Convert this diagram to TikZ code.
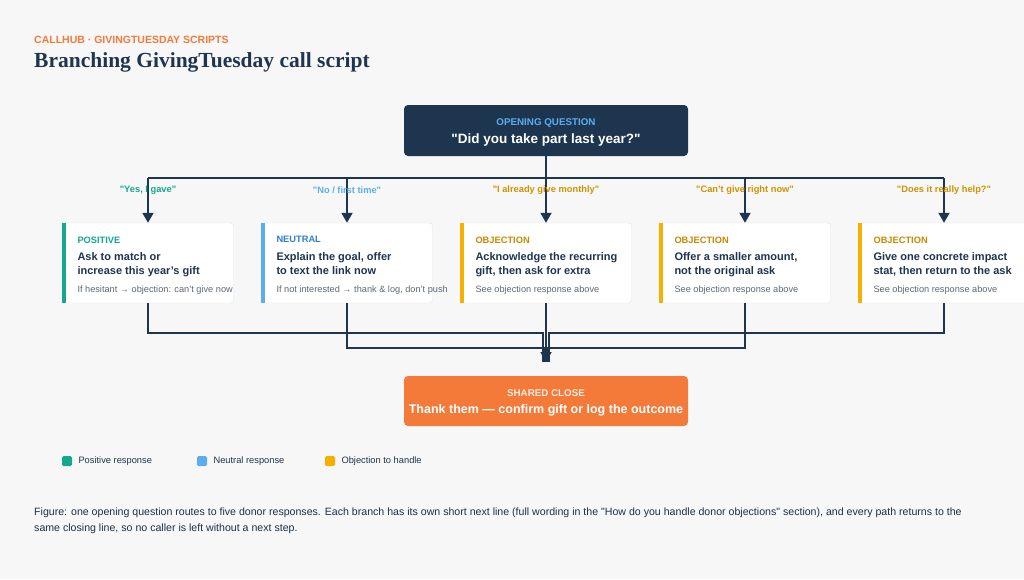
\documentclass[tikz,border=0pt]{standalone}
\usepackage{fontspec}
\setmainfont{Liberation Sans}[Ligatures=TeXOff]
\newfontfamily\titlefont{Liberation Serif}
\usetikzlibrary{arrows.meta, positioning, calc}
\definecolor{navy}{HTML}{1E3550}
\definecolor{bg}{HTML}{F7F7F7}
\definecolor{orng}{HTML}{F47A3A}
\definecolor{teal}{HTML}{14A88E}
\definecolor{skyb}{HTML}{5AAEF0}
\definecolor{blued}{HTML}{2F80C8}
\definecolor{amber}{HTML}{F5B000}
\definecolor{amberd}{HTML}{C98A00}
\definecolor{grayt}{HTML}{5F6873}
\definecolor{edge}{HTML}{E2E4E8}
\newcommand{\qq}{"}
\tikzset{
  card/.style={draw=edge, fill=white, rounded corners=3pt, minimum width=171pt, minimum height=80pt, inner sep=0pt},
  tag/.style={anchor=west, font=\fontsize{9.3}{10}\selectfont\bfseries},
  body/.style={anchor=north west, font=\fontsize{11}{14}\selectfont\bfseries, text=navy, align=left, inner sep=0pt},
  note/.style={anchor=west, font=\fontsize{9.2}{10}\selectfont, text=grayt, inner sep=0pt},
  cue/.style={font=\fontsize{9.3}{10}\selectfont\bfseries},
  wire/.style={navy, line width=1.8pt},
  arr/.style={wire, -{Triangle[width=11pt,length=10pt]}},
}
% card: name, center x, bar colour, tag colour, tag, body, note
\newcommand{\respcard}[7]{%
  \node[card] (#1) at (#2,263) {};
  \fill[#3] (#1.north west) rectangle ++(4,80);
  \node[tag, text=#4, inner sep=0pt] (#1t) at ($(#1.north west)+(15,17)$) {#5};
  \node[body] (#1b) at ($(#1.north west)+(15,30)$) {#6};
  \node[note] (#1n) at ($(#1.north west)+(15,67)$) {#7};
}
\begin{document}
\begin{tikzpicture}[x=1pt, y=-1pt]
\fill[bg] (0,0) rectangle (1024,579);
\useasboundingbox (0,0) rectangle (1024,579);

\node[anchor=west, inner sep=0pt, text=orng, font=\fontsize{10.5}{12}\selectfont\bfseries] (kicker) at (34,40) {CALLHUB · GIVINGTUESDAY SCRIPTS};
\node[anchor=west, inner sep=0pt, text=navy, font=\titlefont\fontsize{21.5}{26}\selectfont\bfseries] (title) at (34,62) {Branching GivingTuesday call script};

% opening question
\node[fill=navy, rounded corners=4pt, minimum width=284pt, minimum height=51pt, inner sep=0pt] (open) at (546,130.5) {};
\node[text=skyb, font=\fontsize{9.8}{10}\selectfont\bfseries] (openT) at (546,123) {OPENING QUESTION};
\node[text=white, font=\fontsize{13.5}{15}\selectfont\bfseries] (openQ) at (546,140) {\qq Did you take part last year?\qq};

% responses
\respcard{c1}{148}{teal}{teal}{POSITIVE}{Ask to match or\\increase this year’s gift}{If hesitant → objection: can’t give now}
\respcard{c2}{347}{skyb}{blued}{NEUTRAL}{Explain the goal, offer\\to text the link now}{If not interested → thank \& log, don’t push}
\respcard{c3}{546}{amber}{amberd}{OBJECTION}{Acknowledge the recurring\\gift, then ask for extra}{See objection response above}
\respcard{c4}{745}{amber}{amberd}{OBJECTION}{Offer a smaller amount,\\not the original ask}{See objection response above}
\respcard{c5}{944}{amber}{amberd}{OBJECTION}{Give one concrete impact\\stat, then return to the ask}{See objection response above}

% shared close
\node[fill=orng, rounded corners=4pt, minimum width=284pt, minimum height=50pt, inner sep=0pt] (close) at (546,401) {};
\node[text=white!85!orng, font=\fontsize{9.8}{10}\selectfont\bfseries] (closeT) at (546,393) {SHARED CLOSE};
\node[text=white, font=\fontsize{12.5}{14}\selectfont\bfseries] (closeL) at (546,410) {Thank them — confirm gift or log the outcome};

% branching bus
\coordinate (bus) at (546,178);
\foreach \i in {1,...,5} \coordinate (b\i) at (c\i.north |- bus);
\draw[wire] (open.south) -- (bus);
\draw[wire] (b1) -- (b5);
\foreach \i in {1,...,5} \draw[arr] (b\i) -- (c\i.north);

% cues
\node[cue, text=teal] (q1) at (148,190) {\qq Yes, I gave\qq};
\node[cue, text=skyb] (q2) at (347,190) {\qq No / first time\qq};
\node[cue, text=amberd!80!amber] (q3) at (546,190) {\qq I already give monthly\qq};
\node[cue, text=amberd!80!amber] (q4) at (745,190) {\qq Can’t give right now\qq};
\node[cue, text=amberd!80!amber] (q5) at (944,190) {\qq Does it really help?\qq};

% return paths
\coordinate (m1) at (543,362);
\coordinate (m2) at (545,362);
\coordinate (m4) at (547,362);
\coordinate (m5) at (549,362);
\draw[wire] (c1.south) |- (543,333) -- (m1);
\draw[wire] (c5.south) |- (549,333) -- (m5);
\draw[wire] (c2.south) |- (545,348) -- (m2);
\draw[wire] (c4.south) |- (547,348) -- (m4);
\draw[arr] (c3.south) -- (close.north |- m1);

% legend
\fill[teal, rounded corners=1.5pt] (62,456) rectangle ++(10,10);
\node[anchor=west, font=\fontsize{9.3}{10}\selectfont, text=navy] (l1) at (75,461) {Positive response};
\fill[skyb, rounded corners=1.5pt] (197,456) rectangle ++(10,10);
\node[anchor=west, font=\fontsize{9.3}{10}\selectfont, text=navy] (l2) at (210,461) {Neutral response};
\fill[amber, rounded corners=1.5pt] (325,456) rectangle ++(10,10);
\node[anchor=west, font=\fontsize{9.3}{10}\selectfont, text=navy] (l3) at (338,461) {Objection to handle};

% caption
\node[anchor=north west, inner sep=0pt, align=left, text=navy!90!black, font=\fontsize{10.6}{16}\selectfont] (cap) at (34,508)
  {Figure: one opening question routes to five donor responses. Each branch has its own short next line (full wording in the \qq How do you handle donor objections\qq{} section), and every path returns to the\\same closing line, so no caller is left without a next step.};
\end{tikzpicture}
\end{document}
